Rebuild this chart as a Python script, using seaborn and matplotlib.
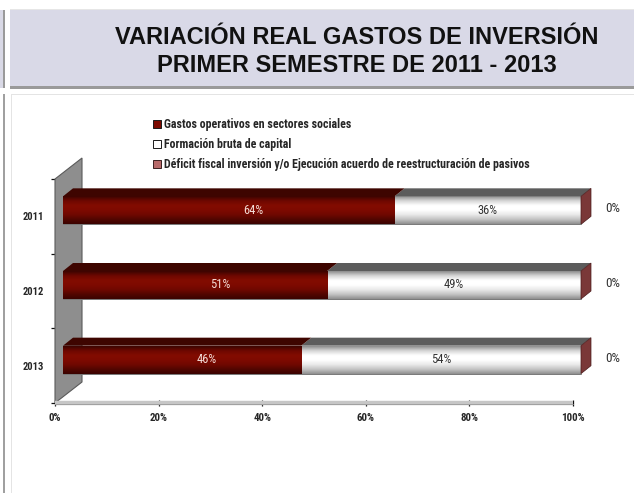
import matplotlib
matplotlib.use("Agg")
import numpy as np
import pandas as pd
import seaborn as sns
import matplotlib.pyplot as plt
from matplotlib.patches import Rectangle, Polygon, Patch
from matplotlib.colors import LinearSegmentedColormap

# ---------------- data ----------------
years = ["2011", "2012", "2013"]
gastos = [64, 51, 46]
formacion = [36, 49, 54]
deficit = [0, 0, 0]
series_names = [
    "Gastos operativos en sectores sociales",
    "Formación bruta de capital",
    "Déficit fiscal inversión y/o Ejecución acuerdo de reestructuración de pasivos",
]
x_ticks = [0, 20, 40, 60, 80, 100]
title_lines = ["VARIACIÓN REAL GASTOS DE INVERSIÓN", "PRIMER SEMESTRE DE 2011 - 2013"]

sns.set_theme(style="white")
NARROW = ["Roboto Condensed", "Liberation Sans", "DejaVu Sans"]
plt.rcParams["font.family"] = ["Liberation Sans", "DejaVu Sans"]

W, H = 634, 493
fig = plt.figure(figsize=(W / 100, H / 100), dpi=100)
fig.patch.set_facecolor("white")


def fx(px):
    return px / W


def fy(py):
    return 1 - py / H


def frect(x0, y0, x1, y1, **kw):
    fig.patches.append(Rectangle((fx(x0), fy(y1)), fx(x1) - fx(x0), fy(y0) - fy(y1),
                                 transform=fig.transFigure, **kw))


# ---------- slide decorations ----------
frect(0, 10, 5, 88, facecolor="#d9d9e6", edgecolor="none")
frect(3, 10, 5, 88, facecolor="#9a9a9a", edgecolor="none")
frect(10, 10, 634, 86, facecolor="#d9d9e7", edgecolor="none")
frect(10, 9, 634, 10, facecolor="#e6e6e6", edgecolor="none")
frect(10, 86, 634, 89, facecolor="#9a9a9a", edgecolor="none")
frect(3, 94, 5, 493, facecolor="#a0a0a0", edgecolor="none")
frect(11, 94, 12, 493, facecolor="#e4e4e4", edgecolor="none")
frect(11, 94, 634, 95, facecolor="#e4e4e4", edgecolor="none")

for i, line in enumerate(title_lines):
    fig.text(fx(357), fy(37 + 28 * i), line, ha="center", va="center",
             fontsize=17, fontweight="bold", color="#111111")

# ---------- axes ----------
AX_W, AX_H = 518, 224
ax = fig.add_axes([fx(55), fy(403), AX_W / W, AX_H / H])
axb = fig.add_axes([fx(63), fy(397), AX_W / W, AX_H / H])
for a in (ax, axb):
    a.set_xlim(0, 100)
    a.set_ylim(2.5, -0.5)
    a.patch.set_alpha(0)

px_x = 100 / AX_W          # data units per pixel horizontally
px_y = 3 / AX_H            # data units per pixel vertically

# back wall
wdx, wdy = 27 * px_x, 21 * px_y
ax.add_patch(Polygon([(0, -0.5), (0, 2.5), (wdx, 2.5 - wdy), (wdx, -0.5 - wdy)],
                     closed=True, facecolor="#8e8e8e", edgecolor="#5a5a5a", lw=0.8,
                     clip_on=False, zorder=1))
# floor band
ax.plot([0, 100], [2.5, 2.5], color="#c6c6c6", lw=3.2, solid_capstyle="butt",
        clip_on=False, zorder=2)
ax.plot([0, 100], [2.5 + 1.5 * px_y, 2.5 + 1.5 * px_y], color="#9a9a9a", lw=0.6,
        clip_on=False, zorder=2)

for s in ax.spines.values():
    s.set_visible(False)
ax.set_xticks(x_ticks)
ax.set_xticklabels([f"{t}%" for t in x_ticks], fontweight="bold", fontsize=7.8,
                   family=NARROW)
ax.set_yticks([-0.5, 0.5, 1.5, 2.5])
ax.set_yticklabels([])
ax.set_yticks(range(len(years)), minor=True)
ax.set_yticklabels(years, minor=True, fontweight="bold", fontsize=7.6, family=NARROW)
ax.tick_params(axis="x", which="major", direction="inout", length=4, width=0.9,
               color="#111111", pad=5, bottom=True)
ax.tick_params(axis="y", which="major", direction="out", length=3, width=0.9,
               color="#111111", left=True)
ax.tick_params(axis="y", which="minor", length=0, pad=8, left=True)
ax.set_xlabel("")
ax.set_ylabel("")

# ---------- bars ----------
df = pd.DataFrame({"year": years, "gastos": gastos, "formacion": formacion,
                   "deficit": deficit})
df["total"] = df["gastos"] + df["formacion"] + df["deficit"]

RED = "#7c0a00"
sns.barplot(data=df, x="total", y="year", orient="h", color="white", width=0.375,
            saturation=1, errorbar=None, edgecolor="none", ax=axb)
sns.barplot(data=df, x="gastos", y="year", orient="h", color=RED, width=0.375,
            saturation=1, errorbar=None, edgecolor="none", ax=axb)
axb.set_axis_off()

n = len(years)
tot_patches = axb.patches[:n]
red_patches = axb.patches[n:2 * n]

cm_white = LinearSegmentedColormap.from_list(
    "w", ["#8c8c8c", "#d6d6d6", "#ffffff", "#ffffff", "#e9e9e9", "#c4c4c4", "#8e8e8e"])
cm_red = LinearSegmentedColormap.from_list(
    "r", ["#3c0400", "#6e0800", "#820c00", "#7e0a00", "#700800", "#520600", "#3a0300"])
grad = np.linspace(0, 1, 128).reshape(-1, 1)

ddx, ddy = 10 * px_x, 8 * px_y
for patches, cm in ((tot_patches, cm_white), (red_patches, cm_red)):
    for p in patches:
        x0, y0, w, h = p.get_x(), p.get_y(), p.get_width(), p.get_height()
        im = axb.imshow(grad, cmap=cm, extent=(x0, x0 + w, y0 + h, y0), aspect="auto",
                        interpolation="bilinear", zorder=p.get_zorder() + 0.05)
        im.set_clip_path(p)

for pt, pr in zip(tot_patches, red_patches):
    x0, y0, h = pt.get_x(), pt.get_y(), pt.get_height()
    xr = pr.get_x() + pr.get_width()
    xt = x0 + pt.get_width()
    # top faces
    axb.add_patch(Polygon([(xr, y0), (xt, y0), (xt + ddx, y0 - ddy), (xr + ddx, y0 - ddy)],
                          closed=True, facecolor="#5c5c5c", edgecolor="none",
                          zorder=3, clip_on=False))
    axb.add_patch(Polygon([(x0, y0), (xr, y0), (xr + ddx, y0 - ddy), (x0 + ddx, y0 - ddy)],
                          closed=True, facecolor="#3e0500", edgecolor="none",
                          zorder=3, clip_on=False))
    # end face (third series, 0%)
    axb.add_patch(Polygon([(xt, y0), (xt, y0 + h), (xt + ddx, y0 + h - ddy),
                           (xt + ddx, y0 - ddy)],
                          closed=True, facecolor="#7a3838", edgecolor="#4a1a1a", lw=0.5,
                          zorder=3, clip_on=False))
    # bottom shadow line
    axb.plot([x0, xt], [y0 + h, y0 + h], color="#777777", lw=0.7, zorder=3,
             clip_on=False)

axb.set_xlim(0, 100)
axb.set_ylim(2.5, -0.5)

# value labels
for i, p in enumerate(red_patches):
    cy = p.get_y() + p.get_height() / 2
    axb.annotate(f"{gastos[i]}%", xy=(gastos[i] / 2, cy), xytext=(18, 0),
                 textcoords="offset points", ha="center", va="center", fontsize=9,
                 color="#f3dcd6", family=NARROW, zorder=6)
    axb.annotate(f"{formacion[i]}%", xy=(gastos[i] + formacion[i] / 2, cy),
                 ha="center", va="center", fontsize=9, color="#333333",
                 family=NARROW, zorder=6)
    tot = gastos[i] + formacion[i] + deficit[i]
    axb.annotate(f"{deficit[i]}%", xy=(tot, cy), xytext=(22.5, 1),
                 textcoords="offset points", ha="center", va="center", fontsize=9.5,
                 color="#333333", family=NARROW, zorder=6, annotation_clip=False)

# ---------- legend ----------
handles = [
    Patch(facecolor=RED, edgecolor="#1a1a1a", lw=0.7),
    Patch(facecolor="white", edgecolor="#1a1a1a", lw=0.7),
    Patch(facecolor="#b86a6a", edgecolor="#3a2020", lw=0.7),
]
fig.legend(handles, series_names, loc="upper left", bbox_to_anchor=(fx(153), fy(118)),
           frameon=False, borderpad=0, borderaxespad=0, handlelength=0.68,
           handleheight=0.68, handletextpad=0.22, labelspacing=0.6,
           prop={"family": NARROW, "weight": "bold", "size": 8.6})

fig.savefig("out.png", dpi=100)
